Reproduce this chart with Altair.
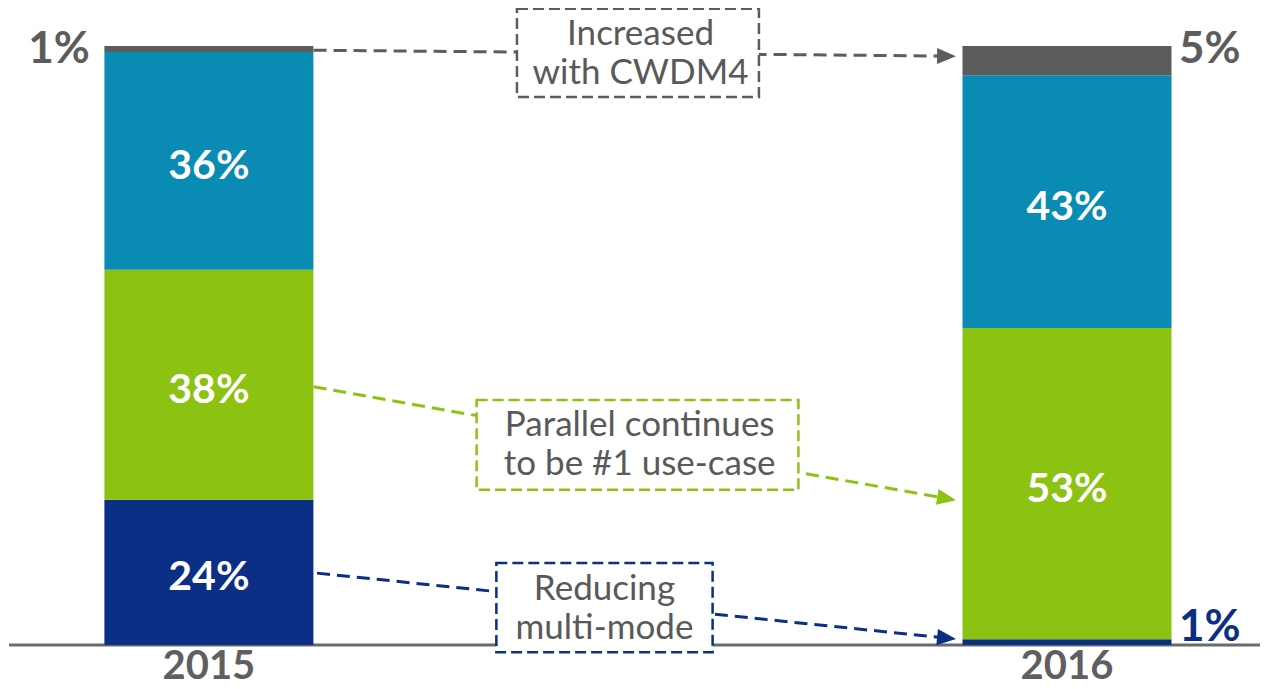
import math
import altair as alt
import pandas as pd

# ---------------- data ----------------
years = ["2015", "2016"]
segments = ["Multi-mode", "Parallel", "Duplex", "CWDM4"]
seg_colors = ["#0b2f85", "#8cc312", "#0a8bb4", "#5c5c5c"]
values_2015 = [24, 38, 36, 1]
values_2016 = [1, 53, 43, 5]

# small-segment labels drawn outside the bars
outside_text = ["1%", "5%", "1%"]
outside_year = [0, 1, 1]
outside_color = ["#5c5c5c", "#5c5c5c", "#0b2f85"]
outside_side = ["left", "right", "right"]
outside_y = [0.993, 0.993, 0.028]

# annotation call-outs (positions in data units: x = year index, y = share)
note_lines = [["Increased", "with CWDM4"], ["Parallel continues", "to be #1 use-case"], ["Reducing", "multi-mode"]]
note_color = ["#5c5c5c", "#8cc312", "#0b2f85"]
note_x0 = [0.359, 0.312, 0.335]
note_x1 = [0.641, 0.687, 0.587]
note_y0 = [1.062, 0.409, 0.137]
note_y1 = [0.915, 0.259, -0.012]
note_tx = [0.503, 0.502, 0.461]
note_ty = [0.988, 0.334, 0.061]
arrow_x0 = [0.122, 0.122, 0.126]
arrow_y0 = [0.993, 0.431, 0.120]
arrow_x1 = [0.870, 0.870, 0.870]
arrow_y1 = [0.983, 0.242, 0.010]

# ---------------- geometry ----------------
W, H = 1252, 673
XDOM = [-0.2283, 1.2191]
YDOM = [-(H - 637) / 599, 637 / 599]
px_per_x = W / (XDOM[1] - XDOM[0])
px_per_y = H / (YDOM[1] - YDOM[0])
LINE_GAP = 39  # px between annotation text lines

rows = []
for yi, vals in enumerate([values_2015, values_2016]):
    for si, v in enumerate(vals):
        rows.append({"year": years[yi], "xi": yi, "segment": segments[si],
                     "order": si, "value": v, "label": f"{v}%"})
bars_df = pd.DataFrame(rows)

xs = alt.Scale(domain=XDOM, nice=False, zero=False)
ys = alt.Scale(domain=YDOM, nice=False, zero=False)

color_scale = alt.Scale(domain=segments, range=seg_colors)

baseline = alt.Chart(pd.DataFrame({"y": [0]})).mark_rule(
    color="#6b6b6b", strokeWidth=3
).encode(y=alt.Y("y:Q", scale=ys, axis=None), x=alt.value(1), x2=alt.value(W))

bars = alt.Chart(bars_df).mark_bar(size=209).encode(
    x=alt.X("xi:Q", scale=xs, axis=None),
    y=alt.Y("value:Q", stack="normalize", scale=ys, axis=None),
    color=alt.Color("segment:N", scale=color_scale, legend=None),
    order=alt.Order("order:Q"),
)

bar_labels = alt.Chart(bars_df).transform_stack(
    stack="value", groupby=["year"], as_=["v0", "v1"], offset="normalize",
    sort=[alt.SortField("order", order="ascending")]
).transform_calculate(
    mid="(datum.v0 + datum.v1) / 2"
).transform_filter("datum.value >= 10").mark_text(
    font="Lato", fontWeight="bold", fontSize=41, color="white", baseline="middle", dy=6
).encode(
    x=alt.X("xi:Q", scale=xs, axis=None),
    y=alt.Y("mid:Q", scale=ys, axis=None),
    text="label:N",
)

out_df = pd.DataFrame({"xi": outside_year, "text": outside_text, "color": outside_color,
                       "side": outside_side, "y": outside_y})
out_left = alt.Chart(out_df[out_df.side == "left"]).mark_text(
    font="Lato", fontWeight="bold", fontSize=44, align="right", baseline="middle", dx=-119
).encode(x=alt.X("xi:Q", scale=xs, axis=None), y=alt.Y("y:Q", scale=ys, axis=None),
         text="text:N", color=alt.Color("color:N", scale=None))
out_right = alt.Chart(out_df[out_df.side == "right"]).mark_text(
    font="Lato", fontWeight="bold", fontSize=44, align="left", baseline="middle", dx=112
).encode(x=alt.X("xi:Q", scale=xs, axis=None), y=alt.Y("y:Q", scale=ys, axis=None),
         text="text:N", color=alt.Color("color:N", scale=None))

year_df = pd.DataFrame({"xi": [0, 1], "year": years})
year_labels = alt.Chart(year_df).mark_text(
    font="Lato", fontWeight="bold", fontSize=40, color="#5f5f5f", baseline="alphabetic"
).encode(x=alt.X("xi:Q", scale=xs, axis=None), y=alt.value(H - 2), text="year:N")

# arrows
arr_rows = []
for i in range(len(note_lines)):
    x0, y0, x1, y1 = arrow_x0[i], arrow_y0[i], arrow_x1[i], arrow_y1[i]
    dxp = (x1 - x0) * px_per_x
    dyp = -(y1 - y0) * px_per_y
    L = math.hypot(dxp, dyp)
    back = 9.0
    cx = x1 - back * dxp / L / px_per_x
    cy = y1 + back * dyp / L / px_per_y
    ang = math.degrees(math.atan2(dyp, dxp)) % 360
    arr_rows.append({"x0": x0, "y0": y0, "x1": cx, "y1": cy, "cx": cx, "cy": cy,
                     "angle": ang, "color": note_color[i]})
arr_df = pd.DataFrame(arr_rows)

arrow_lines = alt.Chart(arr_df).mark_rule(strokeWidth=3, strokeDash=[13, 7]).encode(
    x=alt.X("x0:Q", scale=xs, axis=None), x2="x1:Q",
    y=alt.Y("y0:Q", scale=ys, axis=None), y2="y1:Q",
    color=alt.Color("color:N", scale=None),
)
arrow_heads = alt.Chart(arr_df).mark_point(
    shape="M-1,-0.85L1,0L-1,0.85Z", filled=True, size=360, opacity=1
).encode(
    x=alt.X("cx:Q", scale=xs, axis=None), y=alt.Y("cy:Q", scale=ys, axis=None),
    angle=alt.Angle("angle:Q", scale=None),
    color=alt.Color("color:N", scale=None),
)

note_df = pd.DataFrame({"color": note_color,
                        "x0": note_x0, "x1": note_x1, "y0": note_y0, "y1": note_y1})
note_boxes = alt.Chart(note_df).mark_rect(fill="white", strokeWidth=2.5, strokeDash=[11, 5]).encode(
    x=alt.X("x0:Q", scale=xs, axis=None), x2="x1:Q",
    y=alt.Y("y0:Q", scale=ys, axis=None), y2="y1:Q",
    stroke=alt.Stroke("color:N", scale=None),
)

text_rows = []
for i, lines in enumerate(note_lines):
    n = len(lines)
    for j, line in enumerate(lines):
        off_px = (j - (n - 1) / 2) * LINE_GAP
        text_rows.append({"text": line, "tx": note_tx[i], "ty": note_ty[i] - off_px / px_per_y})
note_texts = alt.Chart(pd.DataFrame(text_rows)).mark_text(
    font="Lato", fontSize=35, color="#595959", baseline="middle"
).encode(
    x=alt.X("tx:Q", scale=xs, axis=None), y=alt.Y("ty:Q", scale=ys, axis=None), text="text:N"
)

chart = alt.layer(
    baseline, bars, bar_labels, arrow_lines, arrow_heads, note_boxes, note_texts,
    out_left, out_right, year_labels
).properties(
    width=W, height=H, padding=0, autosize=alt.AutoSizeParams(type="none")
).configure_view(stroke=None)

chart.save("out.html", embed_options={"renderer": "svg", "actions": False})
